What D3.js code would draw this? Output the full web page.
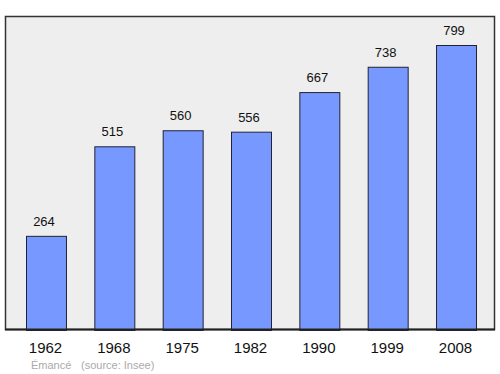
<!DOCTYPE html>
<html><head><meta charset="utf-8">
<script src="https://cdn.jsdelivr.net/npm/d3@7"></script>
<style>body{margin:0;background:#fff}svg{display:block}</style>
</head><body>
<script>
const years = ["1962","1968","1975","1982","1990","1999","2008"];
const population = [264,515,560,556,667,738,799];
const commune = "Émancé";
const source = "(source: Insee)";

const W=500,H=374;
const svg=d3.select("body").append("svg").attr("width",W).attr("height",H)
  .style("font-family","'Liberation Sans', Arial, sans-serif");
svg.append("rect").attr("x",5.5).attr("y",16.5).attr("width",489).attr("height",313)
  .attr("fill","#eeeeee").attr("stroke","#333").attr("stroke-width",1.5);
const x=d3.scaleBand().domain(years).range([26,476]).paddingInner(0.415).paddingOuter(0);
const y=d3.scaleLinear().domain([0,799]).range([330,45]);
const g=svg.append("g");
g.selectAll("rect.bar").data(population).join("rect").attr("class","bar")
  .attr("x",(d,i)=>x(years[i])+0.5).attr("y",d=>y(d)+0.5)
  .attr("width",x.bandwidth()).attr("height",d=>330-y(d))
  .attr("fill","#7799ff").attr("stroke","#223").attr("stroke-width",1);
g.selectAll("text.val").data(population).join("text").attr("class","val")
  .attr("x",(d,i)=>x(years[i])+x.bandwidth()/2-2).attr("y",d=>y(d)-10)
  .attr("text-anchor","middle").attr("font-size",13).attr("fill","#111").text(d=>d);
svg.append("line").attr("x1",5).attr("x2",495).attr("y1",329.5).attr("y2",329.5).attr("stroke","#222").attr("stroke-width",2);
svg.selectAll("text.yr").data(years).join("text").attr("class","yr")
  .attr("x",d=>x(d)+x.bandwidth()/2-0.5).attr("y",353)
  .attr("text-anchor","middle").attr("font-size",15).attr("fill","#111").text(d=>d);
svg.append("text").attr("x",31).attr("y",369).attr("font-size",11).attr("fill","#aaa").text(commune);
svg.append("text").attr("x",81).attr("y",369).attr("font-size",11).attr("fill","#aaa").text(source);
</script>
</body></html>
